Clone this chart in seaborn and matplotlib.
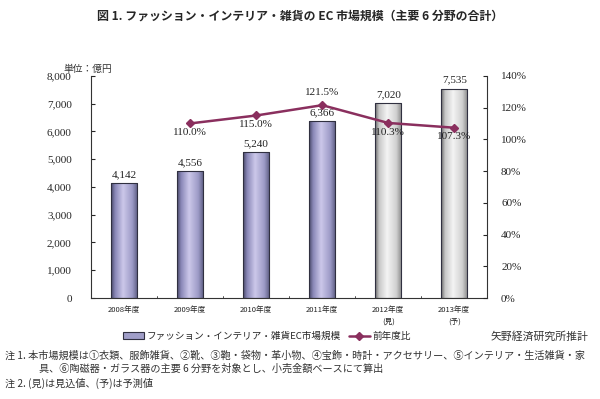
import numpy as np
import pandas as pd
import matplotlib
matplotlib.use("Agg")
import matplotlib.pyplot as plt
from matplotlib.colors import LinearSegmentedColormap
from matplotlib.patches import Rectangle
from matplotlib.lines import Line2D
import seaborn as sns

# データ
years = ["2008年度", "2009年度", "2010年度", "2011年度", "2012年度\n(見)", "2013年度\n(予)"]
market = [4142, 4556, 5240, 6366, 7020, 7535]
yoy = [np.nan, 110.0, 115.0, 121.5, 110.3, 107.3]
left_ticks = [0, 1000, 2000, 3000, 4000, 5000, 6000, 7000, 8000]
right_ticks = [0, 20, 40, 60, 80, 100, 120, 140]

sns.set_style("white")
plt.rcParams["font.family"] = ["Noto Sans CJK JP", "DejaVu Sans"]

fig = plt.figure(figsize=(6, 3.99), dpi=100)
ax = fig.add_axes([0.152, 0.253, 0.660, 0.557])

df = pd.DataFrame({"year": years, "market": market})
sns.barplot(data=df, x="year", y="market", ax=ax, width=0.4, color="white",
            edgecolor="#303040", linewidth=0.8)

# グラデーション（円柱風）
blue_cm = LinearSegmentedColormap.from_list(
    "b", [(0, "#4a4a6a"), (0.15, "#8a88b8"), (0.45, "#ccc8ea"), (0.8, "#9c9ac6"), (1, "#5a5a80")])
gray_cm = LinearSegmentedColormap.from_list(
    "g", [(0, "#6a6a6a"), (0.15, "#c8c8c8"), (0.45, "#f4f4f4"), (0.8, "#d0d0d0"), (1, "#888888")])
grad = np.linspace(0, 1, 64).reshape(1, -1)
bars = list(ax.patches)
for i, p in enumerate(bars):
    x0, y0 = p.get_x(), p.get_y()
    w, h = p.get_width(), p.get_height()
    cm = blue_cm if i < 4 else gray_cm
    im = ax.imshow(grad, cmap=cm, extent=[x0, x0 + w, y0, y0 + h],
                   aspect="auto", zorder=p.get_zorder() - 0.1, interpolation="bilinear")
    im.set_clip_path(p)
    p.set_facecolor("none")
    ax.text(x0 + w / 2, y0 + h + 150, f"{market[i]:,}", ha="center", va="bottom",
            fontsize=8, family=["Liberation Serif"], color="#222222")

ax.set_xlim(-0.5, 5.5)
ax.set_ylim(0, 8000)
ax.set_yticks(left_ticks)
ax.set_yticklabels([f"{v:,}" for v in left_ticks], family=["Liberation Serif"], fontsize=8)
ax.set_xticks(range(len(years)))
ax.set_xticklabels(years, fontsize=5.5, family=["Noto Sans CJK JP"], linespacing=1.6)
ax.tick_params(axis="x", length=0, pad=6)
ax.tick_params(axis="y", direction="in", length=3, pad=14)
for xb in np.arange(0.5, 5.5, 1.0):
    ax.plot([xb, xb], [0, 80], color="#333333", lw=0.6, clip_on=False)
ax.set_xlabel("")
ax.set_ylabel("")
for s in ["left", "bottom"]:
    ax.spines[s].set_color("#333333")
    ax.spines[s].set_linewidth(0.8)
ax.spines["top"].set_visible(False)
ax.spines["right"].set_visible(False)

ax2 = ax.twinx()
xs = np.arange(len(years))
line_color = "#8a2f5e"
ax2.plot(xs, yoy, color=line_color, lw=1.8, marker="D", markersize=4.5)
ax2.set_ylim(0, 140)
ax2.set_yticks(right_ticks)
ax2.set_yticklabels([f"{v}%" for v in right_ticks], family=["Liberation Serif"], fontsize=8)
ax2.tick_params(axis="y", direction="in", length=3, pad=10)
ax2.spines["top"].set_visible(False)
ax2.spines["left"].set_visible(False)
ax2.spines["bottom"].set_visible(False)
ax2.spines["right"].set_color("#333333")
ax2.spines["right"].set_linewidth(0.8)
for i, v in enumerate(yoy):
    if np.isnan(v):
        continue
    if i == 3:
        ax2.text(i, v + 5, f"{v:.1f}%", ha="center", va="bottom", fontsize=8,
                 family=["Liberation Serif"], color="#222222")
    else:
        ax2.text(i, v - 3, f"{v:.1f}%", ha="center", va="top", fontsize=8,
                 family=["Liberation Serif"], color="#222222")

# タイトル
fig.text(0.5, 0.96, "図 1. ファッション・インテリア・雑貨の EC 市場規模（主要 6 分野の合計）",
         ha="center", va="center", fontsize=8.6, fontweight="bold")
fig.text(0.105, 0.828, "単位：億円", ha="left", va="center", fontsize=7, color="#333333")

# 凡例
handles = [Rectangle((0, 0), 1, 1, facecolor="#a09ec8", edgecolor="#303040", lw=0.8),
           Line2D([0], [0], color=line_color, lw=1.8, marker="D", markersize=4.5)]
fig.legend(handles, ["ファッション・インテリア・雑貨EC市場規模", "前年度比"],
           loc="center", bbox_to_anchor=(0.445, 0.157), ncol=2, frameon=False,
           fontsize=6.9, handlelength=2.2, columnspacing=0.8, handletextpad=0.3)
fig.text(0.98, 0.157, "矢野経済研究所推計", ha="right", va="center", fontsize=7.8, color="#333333")

# 注記
fig.text(0.008, 0.108, "注 1. 本市場規模は①衣類、服飾雑貨、②靴、③鞄・袋物・革小物、④宝飾・時計・アクセサリー、⑤インテリア・生活雑貨・家",
         ha="left", va="center", fontsize=7.3, color="#333333")
fig.text(0.065, 0.075, "具、⑥陶磁器・ガラス器の主要 6 分野を対象とし、小売金額ベースにて算出",
         ha="left", va="center", fontsize=7.3, color="#333333")
fig.text(0.008, 0.040, "注 2. (見)は見込値、(予)は予測値",
         ha="left", va="center", fontsize=7.3, color="#333333")

fig.savefig("out.png", dpi=100)
